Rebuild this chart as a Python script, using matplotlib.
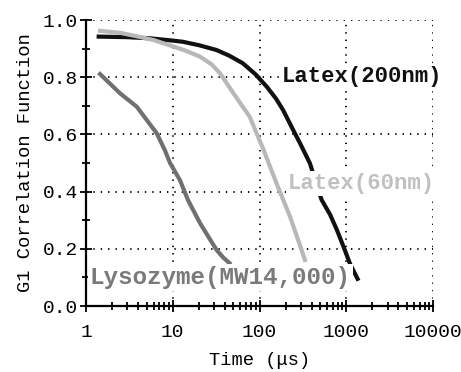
import matplotlib
matplotlib.use("Agg")
import matplotlib.pyplot as plt
from matplotlib.ticker import LogLocator, MultipleLocator, FixedLocator

# ---------------- data ----------------
t_200 = [1.4, 3, 5.5, 10, 13, 20, 32, 45, 64, 90, 121, 155, 187, 240, 292, 381, 450, 520, 650, 780, 950, 1100, 1250, 1350]
g_200 = [0.942, 0.940, 0.936, 0.928, 0.924, 0.912, 0.895, 0.875, 0.849, 0.81, 0.767, 0.725, 0.685, 0.62, 0.57, 0.499, 0.43, 0.371, 0.32, 0.266, 0.20, 0.149, 0.115, 0.095]

t_60 = [1.45, 2.5, 4, 6, 10, 14, 20.6, 28, 35, 50, 77, 110, 157, 225, 280, 334]
g_60 = [0.962, 0.955, 0.942, 0.93, 0.908, 0.893, 0.872, 0.845, 0.814, 0.744, 0.662, 0.55, 0.429, 0.312, 0.229, 0.161]

t_lys = [1.45, 2.46, 3.84, 6.53, 8.1, 9.3, 12.1, 15, 20.6, 26, 32, 38, 45]
g_lys = [0.811, 0.744, 0.697, 0.604, 0.545, 0.50, 0.44, 0.37, 0.29, 0.24, 0.196, 0.17, 0.15]

x_ticks = [1, 10, 100, 1000, 10000]
x_ticklabels = ["1", "10", "100", "1000", "10000"]
y_ticks = [0, 0.2, 0.4, 0.6, 0.8, 1.0]

mono = ["Liberation Mono", "DejaVu Sans Mono"]
plt.rcParams["font.family"] = mono
plt.rcParams["lines.scale_dashes"] = False

fig = plt.figure(figsize=(4.61, 3.72), dpi=100)
ax = fig.add_axes([0.1866, 0.1774, 0.9393 - 0.1866, 0.9462 - 0.1774])

# curves
ax.plot(t_200, g_200, color="#111111", lw=3, zorder=3)
ax.plot(t_60, g_60, color="#b8b8b8", lw=3, zorder=3)
ax.plot(t_lys, g_lys, color="#707070", lw=3, zorder=3)

ax.set_xscale("log")
ax.set_xlim(1, 10000)
ax.set_ylim(0, 1.0)

# dotted grid
for xv in x_ticks[1:]:
    ax.axvline(xv, color="black", lw=1.3, ls=(0, (1, 4.3)), zorder=1)
for yv in y_ticks[1:]:
    ax.axhline(yv, color="black", lw=1.3, ls=(0, (1, 4.3)), zorder=1)

ax.spines["top"].set_visible(False)
ax.spines["right"].set_visible(False)
ax.spines["left"].set_linewidth(1.6)
ax.spines["bottom"].set_linewidth(1.6)

ax.xaxis.set_major_locator(FixedLocator(x_ticks))
ax.set_xticklabels(x_ticklabels)
ax.xaxis.set_minor_locator(LogLocator(base=10, subs=range(2, 10)))
ax.xaxis.set_minor_formatter(plt.NullFormatter())
ax.set_yticks(y_ticks)
ax.set_yticklabels(["%.1f" % v for v in y_ticks])
ax.yaxis.set_minor_locator(MultipleLocator(0.1))

ax.tick_params(which="major", direction="inout", length=8, width=1.3, labelsize=14, pad=2)
ax.tick_params(which="minor", direction="inout", length=6, width=1.3)
ax.tick_params(axis="x", which="major", pad=9)

ax.set_xlabel("Time (μs)", fontsize=13.5, labelpad=8)
ax.set_ylabel("G1 Correlation Function", fontsize=13.5, labelpad=6)

# labels with white boxes covering what is behind them
box = dict(facecolor="white", edgecolor="none", pad=1.5)
ax.text(180, 0.804, "Latex(200nm)", fontsize=16, fontweight="bold", color="#111111",
        ha="left", va="center", bbox=box, zorder=5)
ax.text(213, 0.43, "Latex(60nm)", fontsize=16, fontweight="bold", color="#c0c0c0",
        ha="left", va="center", bbox=box, zorder=5)
ax.text(1.11, 0.10, "Lysozyme(MW14,000)", fontsize=17.5, fontweight="bold", color="#7a7a7a",
        ha="left", va="center", bbox=box, zorder=5)

fig.savefig("out.png", dpi=100)
